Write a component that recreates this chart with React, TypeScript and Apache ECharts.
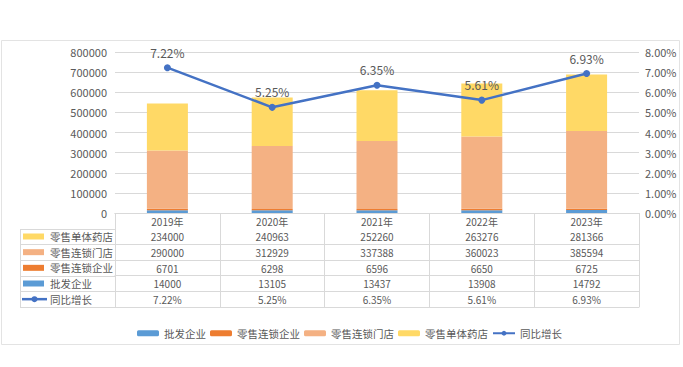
import React, { useEffect, useRef } from 'react';
import * as echarts from 'echarts';

const years = ['2019年', '2020年', '2021年', '2022年', '2023年'];
const wholesale = [14000, 13105, 13437, 13908, 14792];
const chainEnterprise = [6701, 6298, 6596, 6650, 6725];
const chainStores = [290000, 312929, 337388, 360023, 385594];
const singleStores = [234000, 240963, 252260, 263276, 281366];
const growth = [7.22, 5.25, 6.35, 5.61, 6.93];

const NAMES = {
  wholesale: '批发企业',
  chainEnterprise: '零售连锁企业',
  chainStores: '零售连锁门店',
  singleStores: '零售单体药店',
  growth: '同比增长',
};

const COLORS = {
  wholesale: '#5B9BD5',
  chainEnterprise: '#ED7D31',
  chainStores: '#F4B183',
  singleStores: '#FFD966',
  growth: '#4472C4',
};

const W = 683;
const H = 367;
const GRID_LEFT = 115;
const GRID_RIGHT = 44;
const GRID_TOP = 52;
const GRID_BOTTOM_Y = 213;
const ROW_H = 94 / 6;
const TABLE_LEFT = 20;
const TXT = '#595959';
const LINEC = '#d9d9d9';
const NUM_FONT = "'Liberation Sans Narrow', 'Noto Sans CJK SC', sans-serif";
const CJK_FONT = "'Noto Sans CJK SC', sans-serif";

const fmtPct = (v: number) => v.toFixed(2) + '%';

const tableRows = [
  { key: 'singleStores', values: singleStores.map(String), kind: 'bar' },
  { key: 'chainStores', values: chainStores.map(String), kind: 'bar' },
  { key: 'chainEnterprise', values: chainEnterprise.map(String), kind: 'bar' },
  { key: 'wholesale', values: wholesale.map(String), kind: 'bar' },
  { key: 'growth', values: growth.map(fmtPct), kind: 'line' },
] as const;

export default function App() {
  const ref = useRef<HTMLDivElement>(null);

  useEffect(() => {
    if (!ref.current) return;
    const chart = echarts.init(ref.current, undefined, { renderer: 'svg' });

    const rowAxes: any[] = tableRows.map((r, i) => ({
      type: 'category',
      gridIndex: 0,
      position: 'bottom',
      offset: ROW_H * (i + 1),
      data: r.values as unknown as string[],
      boundaryGap: true,
      axisLine: { show: true, lineStyle: { color: LINEC, width: 1 } },
      axisTick: { show: false },
      axisLabel: { interval: 0, margin: 3, fontSize: 10, color: TXT, fontFamily: NUM_FONT },
      splitLine: { show: false },
    }));
    rowAxes.push({
      type: 'category',
      gridIndex: 0,
      position: 'bottom',
      offset: ROW_H * 6,
      data: years,
      boundaryGap: true,
      axisLine: { show: true, lineStyle: { color: LINEC, width: 1 } },
      axisTick: { show: false },
      axisLabel: { show: false },
      splitLine: { show: false },
    });

    const graphics: any[] = [
      {
        type: 'rect',
        z: -10,
        shape: { x: 1.5, y: 40.5, width: 678, height: 304 },
        style: { fill: '#fff', stroke: '#e3e3e3', lineWidth: 1 },
      },
    ];
    for (let k = 1; k <= 6; k++) {
      const y = Math.round(GRID_BOTTOM_Y + ROW_H * k) + 0.5;
      graphics.push({
        type: 'line',
        shape: { x1: TABLE_LEFT, y1: y, x2: GRID_LEFT, y2: y },
        style: { stroke: LINEC, lineWidth: 1 },
      });
    }
    graphics.push({
      type: 'line',
      shape: {
        x1: TABLE_LEFT + 0.5,
        y1: Math.round(GRID_BOTTOM_Y + ROW_H) + 0.5,
        x2: TABLE_LEFT + 0.5,
        y2: Math.round(GRID_BOTTOM_Y + ROW_H * 6) + 0.5,
      },
      style: { stroke: LINEC, lineWidth: 1 },
    });
    tableRows.forEach((r, i) => {
      const cy = GRID_BOTTOM_Y + ROW_H * (i + 1) + ROW_H / 2;
      const color = (COLORS as any)[r.key];
      if (r.kind === 'bar') {
        graphics.push({
          type: 'rect',
          shape: { x: 23, y: cy - 3, width: 21, height: 6 },
          style: { fill: color },
        });
      } else {
        graphics.push({
          type: 'line',
          shape: { x1: 22, y1: cy, x2: 47, y2: cy },
          style: { stroke: color, lineWidth: 2.5 },
        });
        graphics.push({
          type: 'circle',
          shape: { cx: 34.5, cy, r: 3 },
          style: { fill: color },
        });
      }
      graphics.push({
        type: 'text',
        x: 50,
        y: cy,
        style: {
          text: (NAMES as any)[r.key],
          fill: TXT,
          fontSize: 10.5,
          fontFamily: CJK_FONT,
          verticalAlign: 'middle',
          align: 'left',
        },
      });
    });

    const barSeries = (key: keyof typeof COLORS, data: number[]) => ({
      name: (NAMES as any)[key],
      type: 'bar',
      stack: 'total',
      barWidth: 41,
      xAxisIndex: 0,
      yAxisIndex: 0,
      itemStyle: { color: COLORS[key] },
      data,
    });

    chart.setOption({
      animation: false,
      backgroundColor: '#fff',
      textStyle: { fontFamily: NUM_FONT },
      grid: {
        left: GRID_LEFT,
        right: GRID_RIGHT,
        top: GRID_TOP,
        bottom: H - GRID_BOTTOM_Y,
        containLabel: false,
      },
      legend: {
        left: 132,
        top: 323,
        itemWidth: 22,
        itemHeight: 6,
        itemGap: 4,
        textStyle: { fontSize: 10.5, color: TXT, fontFamily: CJK_FONT },
        data: [NAMES.wholesale, NAMES.chainEnterprise, NAMES.chainStores, NAMES.singleStores, NAMES.growth],
      },
      xAxis: [
        {
          type: 'category',
          gridIndex: 0,
          position: 'bottom',
          data: years,
          boundaryGap: true,
          axisLine: { show: true, lineStyle: { color: LINEC, width: 1 } },
          axisTick: { show: true, length: 94, alignWithLabel: false, lineStyle: { color: LINEC, width: 1 } },
          axisLabel: { interval: 0, margin: 3, fontSize: 10, color: TXT, fontFamily: NUM_FONT },
          splitLine: { show: false },
        },
        ...rowAxes,
      ],
      yAxis: [
        {
          type: 'value',
          min: 0,
          max: 800000,
          interval: 100000,
          axisLine: { show: false },
          axisTick: { show: false },
          axisLabel: {
            margin: 8,
            fontSize: 11,
            color: TXT,
            fontFamily: NUM_FONT,
            formatter: (v: number) => String(v),
          },
          splitLine: { lineStyle: { color: LINEC, width: 1 } },
        },
        {
          type: 'value',
          min: 0,
          max: 8,
          interval: 1,
          position: 'right',
          axisLine: { show: false },
          axisTick: { show: false },
          axisLabel: { margin: 6, fontSize: 11, color: TXT, fontFamily: NUM_FONT, formatter: (v: number) => fmtPct(v) },
          splitLine: { show: false },
        },
      ],
      series: [
        barSeries('wholesale', wholesale),
        barSeries('chainEnterprise', chainEnterprise),
        barSeries('chainStores', chainStores),
        barSeries('singleStores', singleStores),
        {
          name: NAMES.growth,
          type: 'line',
          xAxisIndex: 0,
          yAxisIndex: 1,
          data: growth,
          symbol: 'circle',
          symbolSize: 7,
          itemStyle: { color: COLORS.growth },
          lineStyle: { color: COLORS.growth, width: 2.5 },
          label: {
            show: true,
            position: 'top',
            distance: 6,
            fontSize: 12,
            color: TXT,
            fontFamily: NUM_FONT,
            formatter: (p: any) => fmtPct(p.value),
          },
          z: 5,
        },
      ],
      graphic: graphics,
    });

    return () => chart.dispose();
  }, []);

  return (
    <div
      ref={ref}
      style={{ position: 'fixed', left: 0, top: 0, width: W, height: H, background: '#fff' }}
    />
  );
}
